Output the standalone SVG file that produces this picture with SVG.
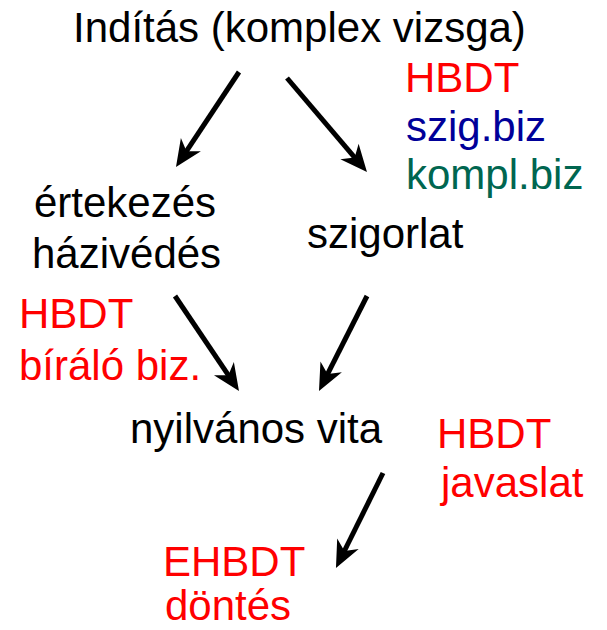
<svg xmlns="http://www.w3.org/2000/svg" width="607" height="630" viewBox="0 0 607 630">
<style>
text{font-family:"Liberation Sans",Arial,sans-serif;font-size:42px;fill:#000}
.red{fill:#FF0000}
.blue{fill:#000099}
.green{fill:#006650}
.arr{stroke:#000;stroke-width:5;fill:none;marker-end:url(#ah)}
</style>
<defs>
<marker id="ah" markerUnits="userSpaceOnUse" viewBox="-30 -15 32 30" markerWidth="32" markerHeight="30" refX="-10" refY="0" orient="auto">
<path d="M0,0 L-27,-12 L-19,0 L-27,12 Z" fill="#000"/>
</marker>
</defs>
<rect width="607" height="630" fill="#fff"/>
<g id="connectors">
<line class="arr" x1="239" y1="72" x2="181.5" y2="158.7"/>
<line class="arr" x1="287" y1="78" x2="360.5" y2="164.4"/>
<line class="arr" x1="175" y1="296" x2="233.4" y2="382.7"/>
<line class="arr" x1="367" y1="296" x2="323.5" y2="382.1"/>
<line class="arr" x1="383" y1="473" x2="340.4" y2="559"/>
</g>
<g id="inditas"><text x="73" y="42">Indítás (komplex vizsga)</text></g>
<g id="inditas-note">
<text class="red" x="405" y="92">HBDT</text>
<text class="blue" x="406" y="141">szig.biz</text>
<text class="green" x="406" y="189">kompl.biz</text>
</g>
<g id="ertekezes">
<text x="34" y="217">értekezés</text>
<text x="32" y="268">házivédés</text>
</g>
<g id="ertekezes-note">
<text class="red" x="19" y="328">HBDT</text>
<text class="red" x="19" y="380">bíráló biz.</text>
</g>
<g id="szigorlat"><text x="307" y="248">szigorlat</text></g>
<g id="vita"><text x="130" y="443">nyilvános vita</text></g>
<g id="vita-note">
<text class="red" x="437" y="448">HBDT</text>
<text class="red" x="441" y="497">javaslat</text>
</g>
<g id="dontes">
<text class="red" x="163" y="576">EHBDT</text>
<text class="red" x="165" y="620">döntés</text>
</g>
</svg>
